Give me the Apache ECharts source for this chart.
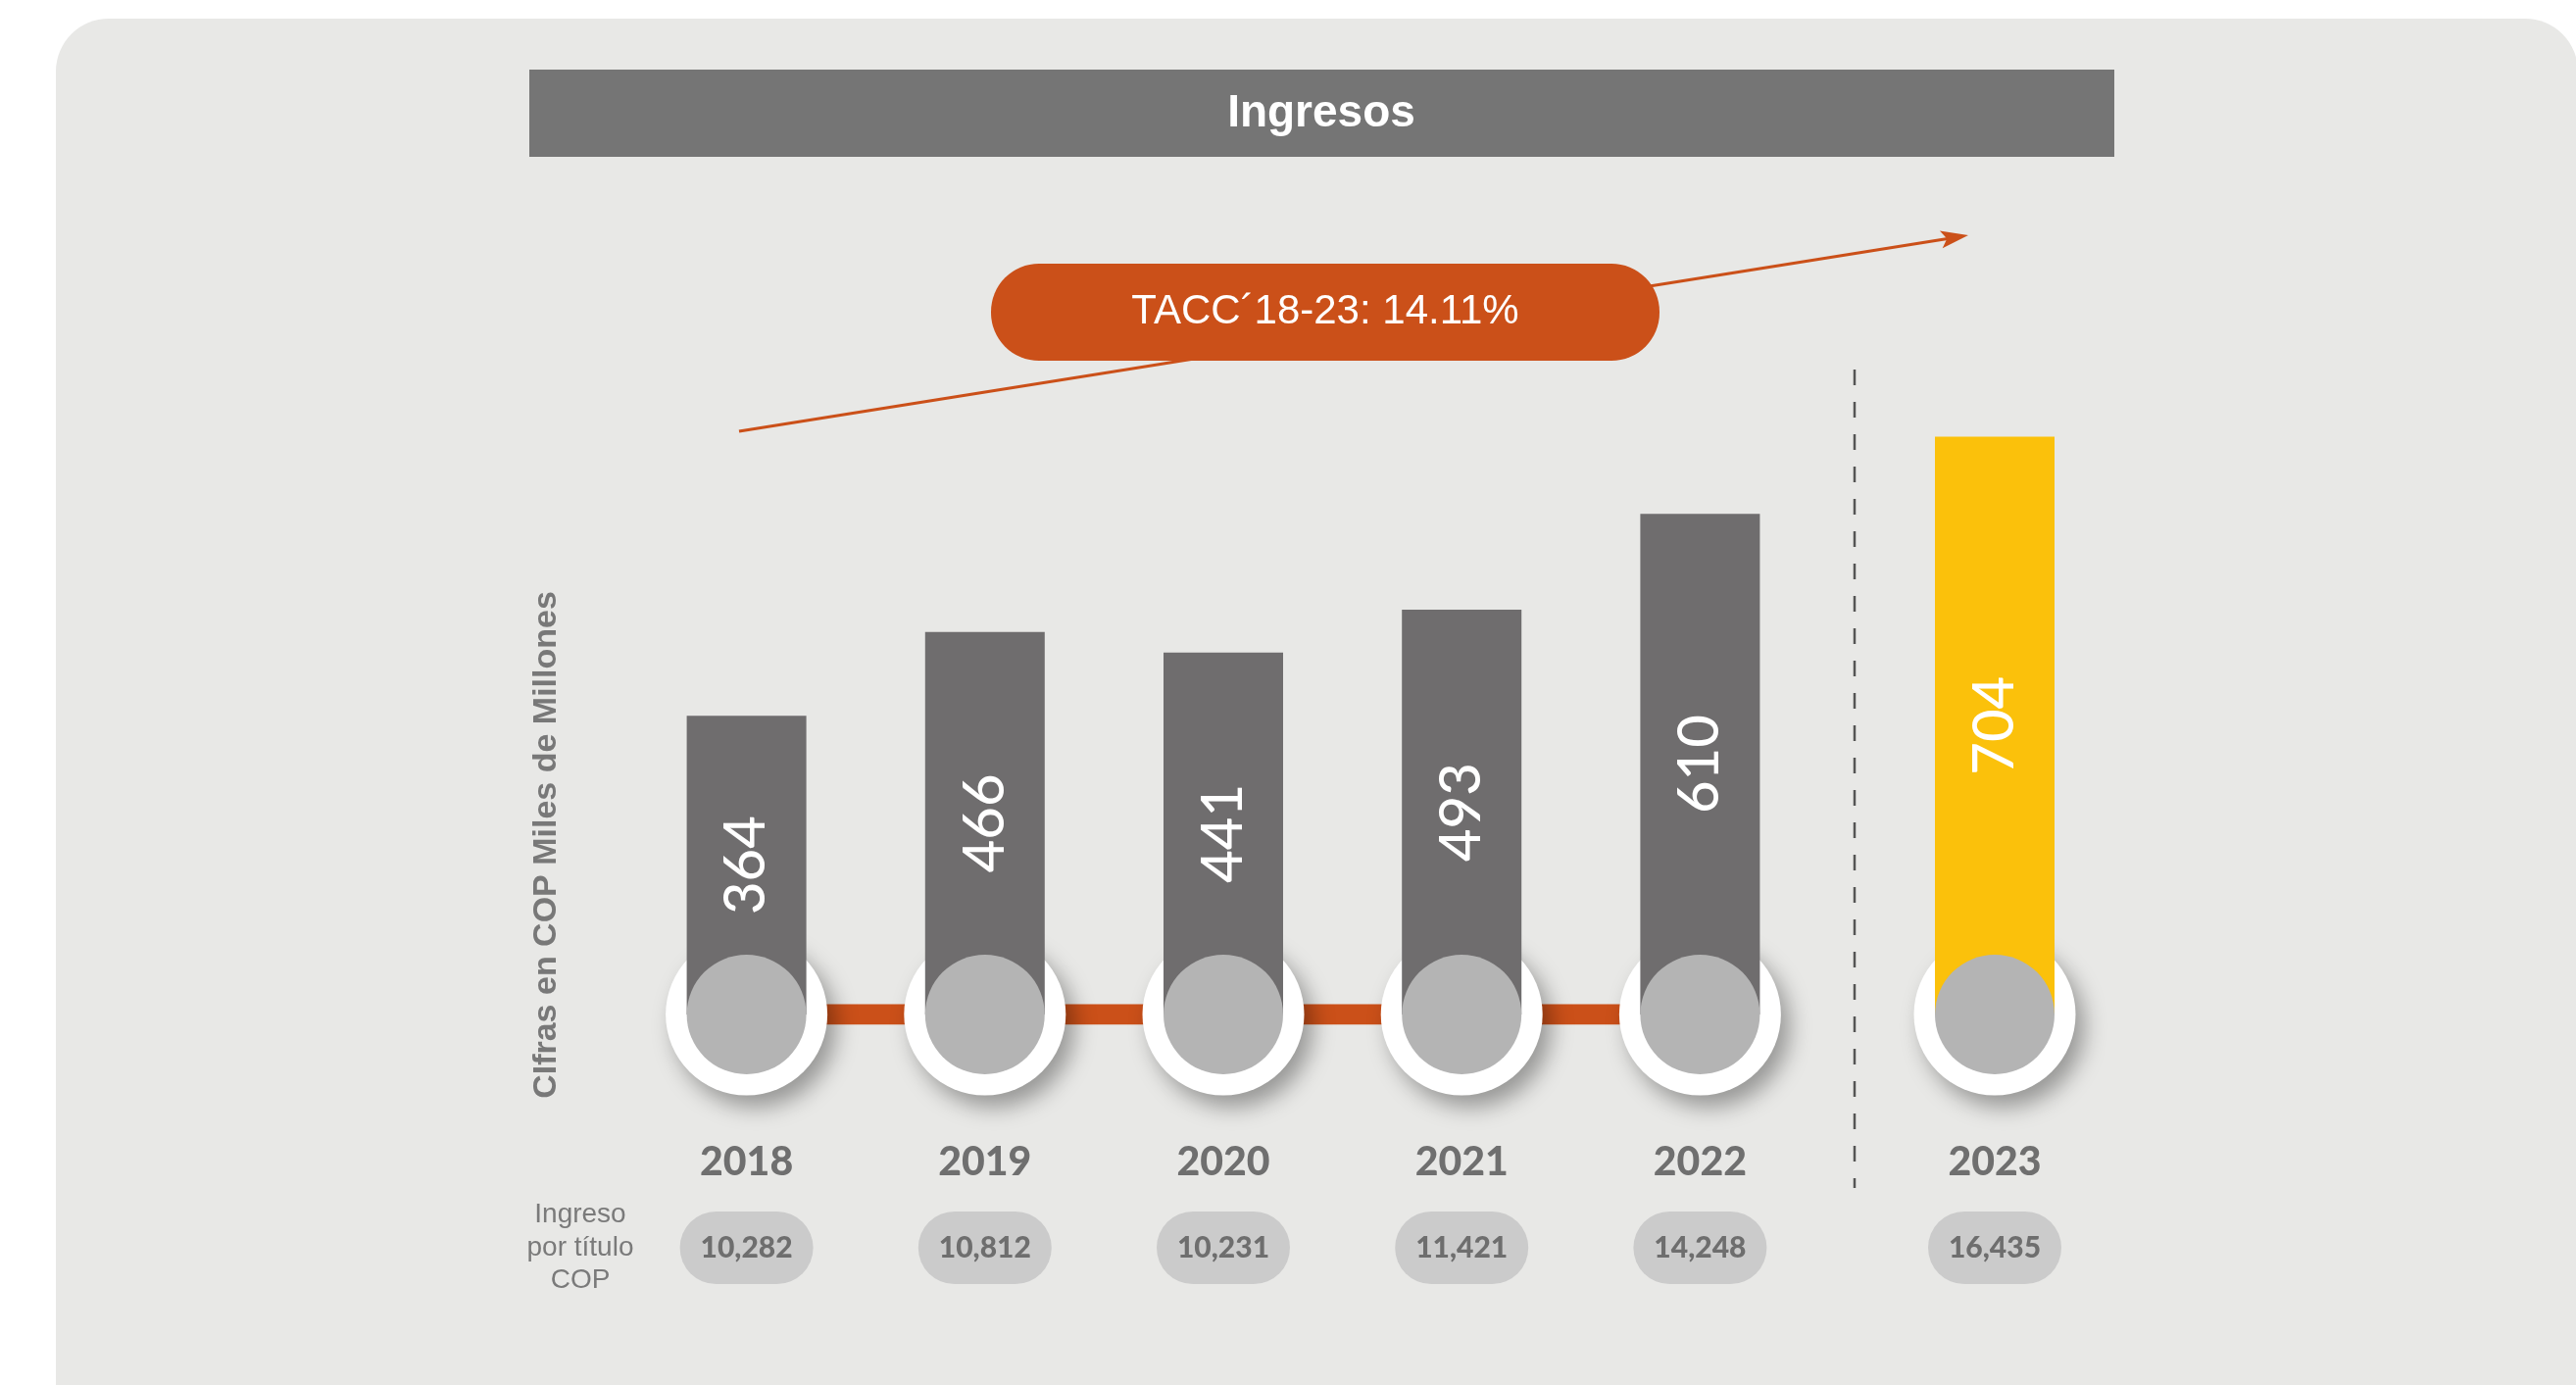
<!DOCTYPE html>
<html>
<head>
<meta charset="utf-8">
<script src="https://cdn.jsdelivr.net/npm/echarts@6/dist/echarts.min.js"></script>
<style>
  html, body { margin: 0; padding: 0; background: #ffffff; }
  #chart { width: 2628px; height: 1413px; }
</style>
</head>
<body>
<div id="chart"></div>
<script>
// datos
const years = ['2018', '2019', '2020', '2021', '2022', '2023'];
const ingresos = [364, 466, 441, 493, 610, 704];
const ingresoPorTitulo = ['10,282', '10,812', '10,231', '11,421', '14,248', '16,435'];
const titulo = 'Ingresos';
const tacc = 'TACC´18-23: 14.11%';
const yName = 'CIfras en COP Miles de Millones';
const rowName = 'Ingreso\npor título\nCOP';

const ORANGE = '#cb5019';
const GREY_BAR = '#6f6d6e';
const YELLOW = '#fbc10b';
const GREY_CIRCLE = '#b4b4b4';

const histYears = years.slice(0, 5);
const histVals = ingresos.slice(0, 5);
const histTit = ingresoPorTitulo.slice(0, 5);
const lastYears = years.slice(5);
const lastVals = ingresos.slice(5);
const lastTit = ingresoPorTitulo.slice(5);

const chart = echarts.init(document.getElementById('chart'));

const yearAxis = (gridIndex, data) => ({
  type: 'category',
  gridIndex,
  data,
  position: 'bottom',
  axisLine: { show: false },
  axisTick: { show: false },
  axisLabel: {
    interval: 0,
    margin: 131,
    fontSize: 41,
    lineHeight: 40,
    fontFamily: 'Lato',
    fontWeight: 900,
    color: '#6f6f6f'
  }
});

const pillAxis = (gridIndex, data) => ({
  type: 'category',
  gridIndex,
  data,
  position: 'bottom',
  axisLine: { show: false },
  axisTick: { show: false },
  axisLabel: {
    interval: 0,
    margin: 201,
    fontSize: 30,
    lineHeight: 30,
    fontFamily: 'Lato',
    fontWeight: 900,
    color: '#6e6e6e',
    backgroundColor: '#cbcbcb',
    borderRadius: 37,
    padding: [22, 0],
    width: 136,
    align: 'center'
  }
});

const valueAxis = (gridIndex) => ({
  type: 'value',
  gridIndex,
  min: 0,
  max: 1000,
  show: false
});

const whiteCircles = (idx, data) => ({
  type: 'scatter',
  xAxisIndex: idx * 2,
  yAxisIndex: idx,
  data: data.map(() => 0),
  symbolSize: 165,
  z: 2,
  silent: true,
  itemStyle: {
    color: '#ffffff',
    opacity: 1,
    shadowBlur: 22,
    shadowOffsetX: 9,
    shadowOffsetY: 12,
    shadowColor: 'rgba(0,0,0,0.35)'
  }
});

const greyCircles = (idx, data) => ({
  type: 'scatter',
  xAxisIndex: idx * 2,
  yAxisIndex: idx,
  data: data.map(() => 0),
  symbolSize: 122,
  z: 4,
  silent: true,
  itemStyle: { color: GREY_CIRCLE, opacity: 1 }
});

const bars = (idx, data, color) => ({
  type: 'bar',
  xAxisIndex: idx * 2,
  yAxisIndex: idx,
  data,
  barWidth: 122,
  z: 3,
  itemStyle: { color },
  label: {
    show: true,
    position: 'inside',
    rotate: 90,
    fontSize: 58,
    fontFamily: 'Lato',
    fontWeight: 500,
    color: '#ffffff'
  }
});

const option = {
  backgroundColor: '#ffffff',
  animation: false,
  grid: [
    { left: 640, right: 772, top: 197.5, bottom: 378 },
    { left: 1913.5, right: 471.5, top: 197.5, bottom: 378 }
  ],
  xAxis: [
    yearAxis(0, histYears),
    pillAxis(0, histTit),
    yearAxis(1, lastYears),
    pillAxis(1, lastTit)
  ],
  yAxis: [valueAxis(0), valueAxis(1)],
  graphic: [
    // tarjeta de fondo
    {
      type: 'rect', z: -10,
      shape: { x: 57, y: 19, width: 2573, height: 1450, r: 54 },
      style: { fill: '#e8e8e6' }
    },
    // barra de titulo
    {
      type: 'rect', z: 1,
      shape: { x: 540, y: 71, width: 1617, height: 89 },
      style: { fill: '#757575' }
    },
    {
      type: 'text', z: 2, x: 1348, y: 116,
      style: {
        text: titulo, fill: '#ffffff', fontSize: 46, fontWeight: 'bold',
        fontFamily: 'Liberation Sans, Arial', textAlign: 'center', textVerticalAlign: 'middle'
      }
    },
    // flecha de crecimiento
    {
      type: 'line', z: 1,
      shape: { x1: 754, y1: 440, x2: 1990, y2: 243 },
      style: { stroke: ORANGE, lineWidth: 3 }
    },
    {
      type: 'polygon', z: 1,
      shape: { points: [[2008, 240], [1981.7, 253.3], [1986.3, 243.4], [1978.9, 235.5]] },
      style: { fill: ORANGE }
    },
    {
      type: 'rect', z: 2,
      shape: { x: 1011, y: 269, width: 682, height: 99, r: 49 },
      style: { fill: ORANGE }
    },
    {
      type: 'text', z: 3, x: 1352, y: 318,
      style: {
        text: tacc, fill: '#ffffff', fontSize: 42,
        fontFamily: 'Liberation Sans, Arial', textAlign: 'center', textVerticalAlign: 'middle'
      }
    },
    // separador
    {
      type: 'line', z: 1,
      shape: { x1: 1892, y1: 377, x2: 1892, y2: 1212 },
      style: { stroke: '#555555', lineWidth: 2.5, lineDash: [16, 17] }
    },
    // titulo del eje
    {
      type: 'text', z: 1, x: 558, y: 862, rotation: Math.PI / 2,
      style: {
        text: yName, fill: '#787878', fontSize: 34, fontWeight: 'bold',
        fontFamily: 'Liberation Sans, Arial', textAlign: 'center', textVerticalAlign: 'middle'
      }
    },
    {
      type: 'text', z: 1, x: 592, y: 1273,
      style: {
        text: rowName, fill: '#7a7a7a', fontSize: 28, lineHeight: 33.5,
        fontFamily: 'Liberation Sans, Arial', textAlign: 'center', textVerticalAlign: 'middle'
      }
    }
  ],
  series: [
    {
      type: 'line',
      xAxisIndex: 0,
      yAxisIndex: 0,
      data: histVals.map(() => 0),
      symbol: 'none',
      z: 1,
      silent: true,
      lineStyle: { color: ORANGE, width: 21 }
    },
    whiteCircles(0, histVals),
    bars(0, histVals, GREY_BAR),
    greyCircles(0, histVals),
    whiteCircles(1, lastVals),
    bars(1, lastVals, YELLOW),
    greyCircles(1, lastVals)
  ]
};

chart.setOption(option);
</script>
</body>
</html>
